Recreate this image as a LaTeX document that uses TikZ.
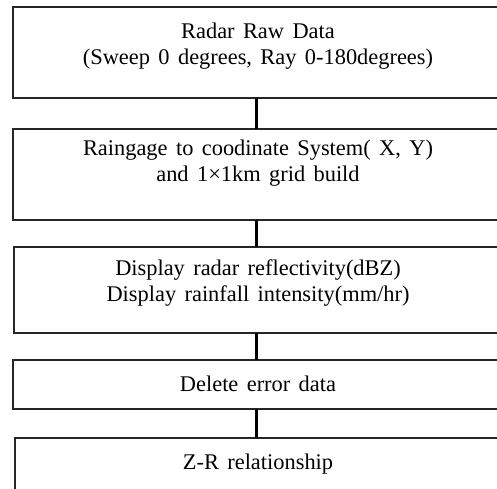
\documentclass[tikz,border=0pt]{standalone}
\usepackage{fontspec}
\setmainfont[WordSpace=1.5]{Liberation Serif}
\begin{document}
\begin{tikzpicture}[x=0.75pt,y=-0.75pt,
  boxstyle/.style={draw=black!85,line width=0.9pt},
  labelstyle/.style={align=center,font=\fontsize{16.8}{20}\selectfont,inner sep=0pt},
  linkstyle/.style={draw=black,line width=1.6pt}]
\useasboundingbox (0,0) rectangle (497,489);
\clip (0,0) rectangle (497,489);
% boxes
\path[boxstyle] (13,7) rectangle (505,98);
\path[boxstyle] (13,129) rectangle (505,220);
\path[boxstyle] (14,247) rectangle (505,333);
\path[boxstyle] (13,360) rectangle (505,409);
\path[boxstyle] (15,438) rectangle (505,500);
% named anchors on boxes
\coordinate (b1s) at (256.5,98);
\coordinate (b2n) at (256.5,129);
\coordinate (b2s) at (256.5,220);
\coordinate (b3n) at (256.5,247);
\coordinate (b3s) at (256.5,333);
\coordinate (b4n) at (256.5,360);
\coordinate (b4s) at (256.5,409);
\coordinate (b5n) at (256.5,438);
% labels
\node[labelstyle] (t1) at (258,46) {Radar Raw Data\\(Sweep 0 degrees, Ray 0-180degrees)};
\node[labelstyle] (t2) at (258,163) {Raingage to coodinate System( X, Y)\\and 1\texttimes1km grid build};
\node[labelstyle] (t3) at (258,283) {Display radar reflectivity(dBZ)\\Display rainfall intensity(mm/hr)};
\node[labelstyle] (t4) at (258,384) {Delete error data};
\node[labelstyle] (t5) at (258,464) {Z-R relationship};
% connectors
\draw[linkstyle] (b1s) -- (b2n);
\draw[linkstyle] (b2s) -- (b3n);
\draw[linkstyle] (b3s) -- (b4n);
\draw[linkstyle] (b4s) -- (b5n);
\end{tikzpicture}
\end{document}
